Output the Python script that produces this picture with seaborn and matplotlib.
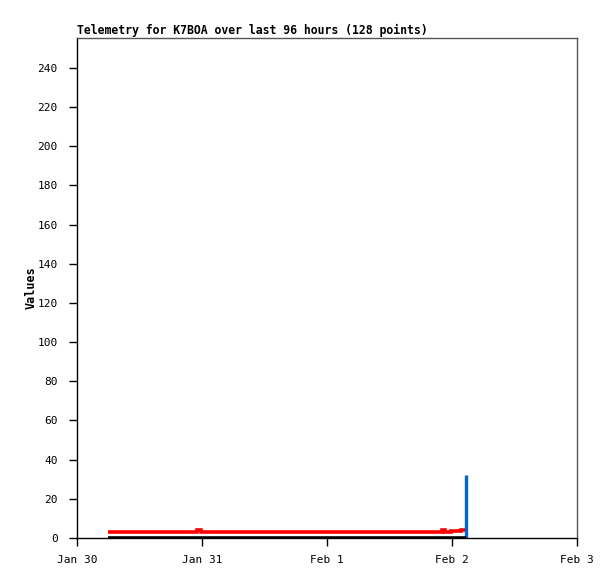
import matplotlib
matplotlib.use("Agg")
import matplotlib.pyplot as plt
import seaborn as sns
import pandas as pd

# Data
red_times = ["2024-01-30 06:00", "2024-01-30 23:00", "2024-01-30 23:50", "2024-02-01 22:05",
             "2024-02-01 22:40", "2024-02-01 23:48", "2024-02-02 01:43", "2024-02-02 02:41"]
red_values = [3.0, 4.0, 3.0, 4.0, 3.0, 3.5, 4.0, 4.0]

black_times = ["2024-01-30 06:00", "2024-02-02 02:41"]
black_values = [0.0, 0.0]

blue_times = ["2024-02-02 02:41", "2024-02-02 02:41"]
blue_values = [0.0, 32.0]

x_ticks = ["2024-01-30", "2024-01-31", "2024-02-01", "2024-02-02", "2024-02-03"]
x_tick_labels = ["Jan 30", "Jan 31", "Feb 1", "Feb 2", "Feb 3"]
y_ticks = [0, 20, 40, 60, 80, 100, 120, 140, 160, 180, 200, 220, 240]

title = "Telemetry for K7BOA over last 96 hours (128 points)"

sns.set_theme(style="white")
plt.rcParams["font.family"] = ["DejaVu Sans Mono", "DejaVu Sans"]
plt.rcParams["text.color"] = "black"
plt.rcParams["axes.labelcolor"] = "black"

fig = plt.figure(figsize=(6.15, 5.79), dpi=100)
ax = fig.add_axes([77/615, 41/579, 500/615, 500/579])

red_df = pd.DataFrame({"t": pd.to_datetime(red_times), "v": red_values})
black_df = pd.DataFrame({"t": pd.to_datetime(black_times), "v": black_values})
blue_df = pd.DataFrame({"t": pd.to_datetime(blue_times), "v": blue_values})

line_kw = dict(estimator=None, sort=False, solid_capstyle="butt", solid_joinstyle="miter")
sns.lineplot(data=red_df, x="t", y="v", ax=ax, color="#ff0000", linewidth=2.6,
             drawstyle="steps-post", **line_kw)
sns.lineplot(data=blue_df, x="t", y="v", ax=ax, color="#0066cc", linewidth=2.4, **line_kw)
sns.lineplot(data=black_df, x="t", y="v", ax=ax, color="#000000", linewidth=2.6, **line_kw)

ax.set_xlim(pd.Timestamp(x_ticks[0]), pd.Timestamp(x_ticks[-1]))
ax.set_ylim(0, 255.3)
ax.set_xticks(pd.to_datetime(x_ticks))
ax.set_xticklabels(x_tick_labels)
ax.set_yticks(y_ticks)
ax.tick_params(axis="both", direction="out", length=6, width=1, colors="black",
               labelsize=8, left=True, bottom=True)
ax.tick_params(axis="x", pad=6)
ax.tick_params(axis="y", pad=8)
for side in ["top", "right"]:
    ax.spines[side].set_color("#555555")
    ax.spines[side].set_linewidth(1)
ax.spines["left"].set_color("black")
ax.spines["bottom"].set_color("black")
ax.spines["left"].set_linewidth(1)
ax.spines["bottom"].set_linewidth(1)

ax.set_xlabel("")
ax.set_ylabel("Values", fontsize=8.5, fontweight="bold", labelpad=0)
ax.set_title(title, loc="left", fontsize=8.3, fontweight="bold", pad=3, color="black")

fig.savefig("out.png", dpi=100)
